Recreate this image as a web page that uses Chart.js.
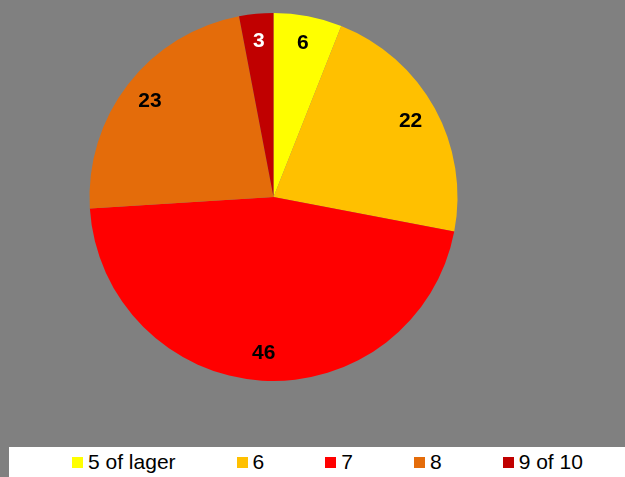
<!DOCTYPE html>
<html>
<head>
<meta charset="utf-8">
<script src="https://cdn.jsdelivr.net/npm/chart.js@4/dist/chart.umd.min.js"></script>
<style>
  html,body{margin:0;padding:0;background:#808080;}
  #wrap{position:relative;width:625px;height:477px;}
  #legend{position:absolute;left:9px;top:447px;width:616px;height:30px;background:#fff;
    display:flex;align-items:center;padding-left:63px;box-sizing:border-box;gap:61px;
    font-family:"Liberation Sans",Arial,sans-serif;font-size:21px;color:#000;}
  #legend span.item{display:flex;align-items:center;}
  #legend i{display:inline-block;width:11px;height:11px;margin-right:5px;}
</style>
</head>
<body>
<div id="wrap">
  <canvas id="chart" width="625" height="477"></canvas>
  <div id="legend"></div>
</div>
<script>
// data
const labels = ['5 of lager', '6', '7', '8', '9 of 10'];
const values = [6, 22, 46, 23, 3];
const colors = ['#FFFF00', '#FFC000', '#FF0000', '#E46C0A', '#C00000'];
const labelColors = ['#000', '#000', '#000', '#000', '#fff'];

// value labels inside slices
const sliceLabels = {
  id: 'sliceLabels',
  afterDatasetsDraw(chart){
    const ctx = chart.ctx;
    const meta = chart.getDatasetMeta(0);
    ctx.save();
    ctx.font = 'bold 21px "Liberation Sans", Arial, sans-serif';
    ctx.textAlign = 'center';
    ctx.textBaseline = 'middle';
    meta.data.forEach((arc, i)=>{
      const p = arc.getProps(['x','y','startAngle','endAngle','outerRadius'], true);
      const mid = (p.startAngle + p.endAngle)/2;
      const r = p.outerRadius*0.85;
      ctx.fillStyle = labelColors[i];
      ctx.fillText(String(values[i]), p.x + Math.cos(mid)*r, p.y + Math.sin(mid)*r);
    });
    ctx.restore();
  }
};

new Chart(document.getElementById('chart'), {
  type: 'pie',
  data: { labels, datasets:[{ data: values, backgroundColor: colors, borderWidth: 0 }] },
  options: {
    responsive: false,
    animation: false,
    layout: { padding: { left: 0, right: 78, top: 13, bottom: 96 } },
    plugins: { legend: { display: false }, tooltip: { enabled: false } }
  },
  plugins: [sliceLabels]
});

// legend
const legendEl = document.getElementById('legend');
labels.forEach((l, i)=>{
  const s = document.createElement('span');
  s.className = 'item';
  s.innerHTML = `<i style="background:${colors[i]}"></i>${l}`;
  legendEl.appendChild(s);
});
</script>
</body>
</html>
